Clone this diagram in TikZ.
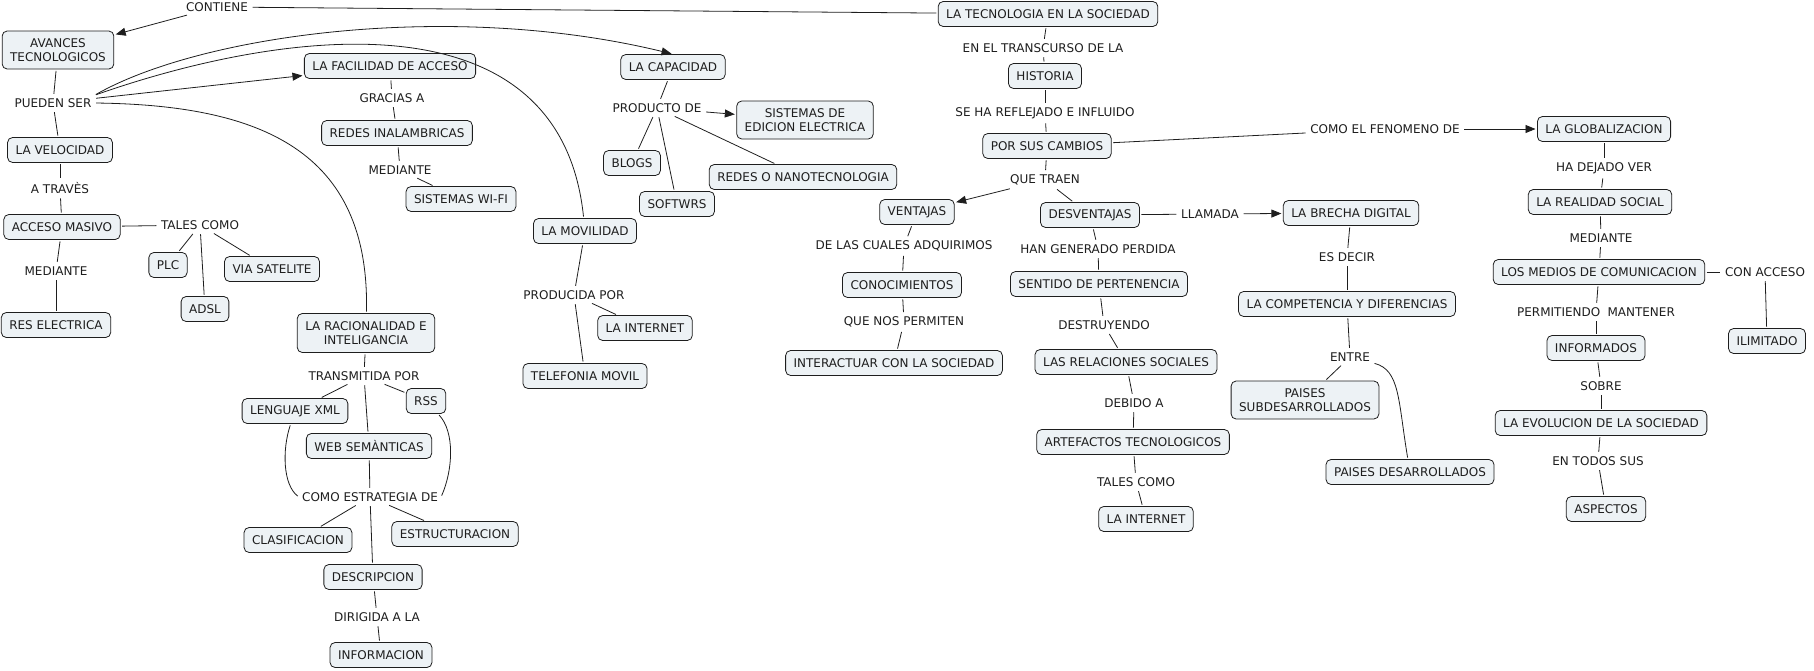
\documentclass[tikz,border=0pt]{standalone}
\usepackage{fontspec}
\setmainfont{DejaVu Sans}
\usetikzlibrary{arrows.meta}
\definecolor{cmfill}{RGB}{237,242,245}
\definecolor{cmline}{RGB}{30,30,30}

\begin{document}
\begin{tikzpicture}[x=1pt,y=-1pt,>={Triangle[length=10pt,width=8pt]},
  font=\fontsize{12}{14}\selectfont,text=cmline,
  concept/.style={draw=cmline,fill=cmfill,line width=0.8pt,rounded corners=5pt,
    minimum height=25pt,inner xsep=8pt,inner ysep=3pt,align=center},
  lbl/.style={inner sep=3pt},
  link/.style={draw=cmline,line width=0.8pt,shorten <=1.5pt,shorten >=1.5pt}]
  \useasboundingbox (0,0) rectangle (1814,670);

  % left part
  \node[concept,minimum height=38pt] (avances) at (58,50) {AVANCES\\TECNOLOGICOS};
  \node[lbl] (contiene) at (217,7) {CONTIENE};
  \node[concept] (tecno) at (1048,14) {LA TECNOLOGIA EN LA SOCIEDAD};
  \node[lbl] (pueden) at (53,103) {PUEDEN SER};
  \node[concept] (facil) at (390,66) {LA FACILIDAD DE ACCESO};
  \node[lbl] (gracias) at (392,98) {GRACIAS A};
  \node[concept] (redin) at (397,133) {REDES INALAMBRICAS};
  \node[lbl] (medi1) at (400,170) {MEDIANTE};
  \node[concept] (wifi) at (461,199) {SISTEMAS WI-FI};
  \node[concept] (veloc) at (60,150) {LA VELOCIDAD};
  \node[lbl] (atraves) at (60,188) {A TRAVÈS};
  \node[concept] (masivo) at (62,227) {ACCESO MASIVO};
  \node[lbl] (tales1) at (200,225) {TALES COMO};
  \node[concept] (plc) at (168,265) {PLC};
  \node[concept] (sat) at (272,269) {VIA SATELITE};
  \node[concept] (adsl) at (205,309) {ADSL};
  \node[lbl] (medi2) at (56,271) {MEDIANTE};
  \node[concept] (reselec) at (56,325) {RES ELECTRICA};
  \node[concept] (capac) at (673,67) {LA CAPACIDAD};
  \node[lbl] (prod) at (657,108) {PRODUCTO DE};
  \node[concept,minimum height=38pt] (sised) at (805,120) {SISTEMAS DE\\EDICION ELECTRICA};
  \node[concept] (blogs) at (632,163) {BLOGS};
  \node[concept] (nano) at (803,177) {REDES O NANOTECNOLOGIA};
  \node[concept] (soft) at (677,204) {SOFTWRS};
  \node[concept] (movil) at (585,231) {LA MOVILIDAD};
  \node[lbl] (producida) at (574,295) {PRODUCIDA POR};
  \node[concept] (inet1) at (645,328) {LA INTERNET};
  \node[concept] (telef) at (585,376) {TELEFONIA MOVIL};
  \node[concept,minimum height=39pt] (racio) at (366,333) {LA RACIONALIDAD E\\INTELIGANCIA};
  \node[lbl] (transm) at (364,376) {TRANSMITIDA POR};
  \node[concept] (xml) at (295,411) {LENGUAJE XML};
  \node[concept] (rss) at (426,401) {RSS};
  \node[concept] (web) at (369,446) {WEB SEMÀNTICAS};
  \node[lbl] (estrat) at (370,497) {COMO ESTRATEGIA DE};
  \node[concept] (clasif) at (298,540) {CLASIFICACION};
  \node[concept] (estruct) at (455,534) {ESTRUCTURACION};
  \node[concept] (descr) at (373,577) {DESCRIPCION};
  \node[lbl] (dirig) at (377,617) {DIRIGIDA A LA};
  \node[concept] (inform) at (381,655) {INFORMACION};

  % middle part
  \node[lbl] (transc) at (1043,48) {EN EL TRANSCURSO DE LA};
  \node[concept] (hist) at (1045,76) {HISTORIA};
  \node[lbl] (refl) at (1045,113) {SE HA REFLEJADO E INFLUIDO};
  \node[concept] (cambios) at (1047,146) {POR SUS CAMBIOS};
  \node[lbl] (traen) at (1045,180) {QUE TRAEN};
  \node[concept] (vent) at (917,212) {VENTAJAS};
  \node[concept] (desv) at (1090,215) {DESVENTAJAS};
  \node[lbl] (cuales) at (904,246) {DE LAS CUALES ADQUIRIMOS};
  \node[concept] (conoc) at (902,285) {CONOCIMIENTOS};
  \node[lbl] (permiten) at (904,322) {QUE NOS PERMITEN};
  \node[concept] (interac) at (894,363) {INTERACTUAR CON LA SOCIEDAD};
  \node[lbl] (generado) at (1098,249) {HAN GENERADO PERDIDA};
  \node[concept] (sentido) at (1099,284) {SENTIDO DE PERTENENCIA};
  \node[lbl] (destr) at (1104,325) {DESTRUYENDO};
  \node[concept] (relac) at (1126,362) {LAS RELACIONES SOCIALES};
  \node[lbl] (debido) at (1134,403) {DEBIDO A};
  \node[concept] (artef) at (1133,442) {ARTEFACTOS TECNOLOGICOS};
  \node[lbl] (tales2) at (1136,482) {TALES COMO};
  \node[concept] (inet2) at (1146,519) {LA INTERNET};
  \node[lbl] (llamada) at (1210,214) {LLAMADA};
  \node[concept] (brecha) at (1351,213) {LA BRECHA DIGITAL};
  \node[lbl] (esdecir) at (1347,257) {ES DECIR};
  \node[concept] (compet) at (1347,304) {LA COMPETENCIA Y DIFERENCIAS};
  \node[lbl] (entre) at (1350,357) {ENTRE};
  \node[concept,minimum height=38pt] (subdes) at (1305,400) {PAISES\\SUBDESARROLLADOS};
  \node[concept] (desa) at (1410,472) {PAISES DESARROLLADOS};

  % right part
  \node[lbl] (fenom) at (1385,129) {COMO EL FENOMENO DE};
  \node[concept] (glob) at (1604,129) {LA GLOBALIZACION};
  \node[lbl] (dejado) at (1604,168) {HA DEJADO VER};
  \node[concept] (realidad) at (1600,202) {LA REALIDAD SOCIAL};
  \node[lbl] (medi3) at (1601,238) {MEDIANTE};
  \node[concept] (medios) at (1599,272) {LOS MEDIOS DE COMUNICACION};
  \node[lbl] (conacc) at (1765,272) {CON ACCESO};
  \node[concept] (ilim) at (1767,341) {ILIMITADO};
  \node[lbl] (permant) at (1596,312) {PERMITIENDO\hspace{0.6em}MANTENER};
  \node[concept] (informados) at (1596,348) {INFORMADOS};
  \node[lbl] (sobre) at (1601,386) {SOBRE};
  \node[concept] (evol) at (1601,423) {LA EVOLUCION DE LA SOCIEDAD};
  \node[lbl] (todos) at (1598,461) {EN TODOS SUS};
  \node[concept] (aspectos) at (1606,509) {ASPECTOS};

  % plain links
  \foreach \a/\b in {tecno/contiene,avances/pueden,pueden/veloc,veloc/atraves,atraves/masivo,
      masivo/tales1,tales1/plc,tales1/adsl,tales1/sat,masivo/medi2,medi2/reselec,
      facil/gracias,gracias/redin,redin/medi1,medi1/wifi,
      capac/prod,prod/blogs,prod/soft,prod/nano,
      movil/producida,producida/inet1,producida/telef,
      racio/transm,transm/xml,transm/web,transm/rss,web/estrat,
      estrat/clasif,estrat/estruct,estrat/descr,descr/dirig,dirig/inform,
      tecno/transc,transc/hist,hist/refl,refl/cambios,cambios/traen,traen/desv,cambios/fenom,
      vent/cuales,cuales/conoc,conoc/permiten,permiten/interac,
      desv/generado,generado/sentido,sentido/destr,destr/relac,relac/debido,debido/artef,
      artef/tales2,tales2/inet2,desv/llamada,
      brecha/esdecir,esdecir/compet,compet/entre,entre/subdes,
      glob/dejado,dejado/realidad,realidad/medi3,medi3/medios,medios/conacc,conacc/ilim,
      medios/permant,permant/informados,informados/sobre,sobre/evol,evol/todos,todos/aspectos}
    \draw[link] (\a) -- (\b);

  % arrows
  \foreach \a/\b in {contiene/avances,pueden/facil,prod/sised,traen/vent,llamada/brecha,fenom/glob}
    \draw[link,->] (\a) -- (\b);

  % curved links
  \draw[link,->] (pueden.north east) .. controls (200,35) and (450,0) .. (capac.north);
  \draw[link] (pueden.north east) .. controls (280,30) and (560,-10) .. (movil);
  \draw[link] (pueden.east) .. controls (260,105) and (370,150) .. (racio);
  \draw[link] (xml) .. controls (282,450) and (283,485) .. (estrat.west);
  \draw[link] (rss) .. controls (455,432) and (453,470) .. (estrat.east);
  \draw[link] (entre) .. controls (1400,370) and (1398,400) .. (desa);
\end{tikzpicture}
\end{document}
